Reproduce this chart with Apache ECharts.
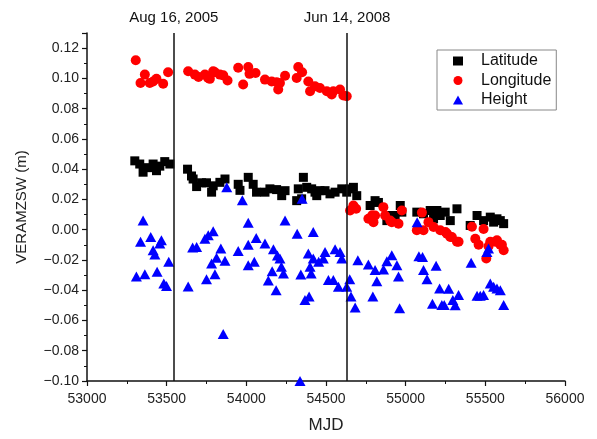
<!DOCTYPE html>
<html>
<head>
<meta charset="utf-8">
<script src="https://cdn.jsdelivr.net/npm/echarts@6/dist/echarts.min.js"></script>
<style>
html,body{margin:0;padding:0;background:#fff;}
#c{width:597px;height:439px;}
</style>
</head>
<body>
<div id="c"></div>
<script>
// ---- data ----
const latitudeMJD = [53300,53331,53352,53383,53415,53436,53457,53488,53520,53631,53656,53666,53688,53719,53750,53782,53792,53834,53866,53949,53960,54012,54043,54064,54117,54148,54190,54222,54243,54316,54326,54347,54358,54379,54410,54431,54442,54462,54494,54525,54557,54599,54630,54651,54672,54693,54777,54808,54829,54882,54903,54934,54966,54976,55070,55112,55154,55175,55196,55217,55248,55280,55322,55405,55448,55489,55531,55552,55573,55594,55615];
const latitudeVal = [0.0455,0.0434,0.038,0.041,0.0434,0.039,0.042,0.045,0.0434,0.040,0.0355,0.0335,0.0285,0.031,0.031,0.0248,0.029,0.0313,0.0335,0.030,0.026,0.0346,0.030,0.0248,0.0248,0.027,0.0265,0.0225,0.0258,0.0192,0.027,0.0204,0.0346,0.028,0.027,0.0248,0.0225,0.0258,0.0258,0.0237,0.0248,0.027,0.0248,0.027,0.028,0.0225,0.016,0.0192,0.018,0.006,0.0094,0.0094,0.016,0.0116,0.0116,0.0105,0.0127,0.0072,0.0127,0.0094,0.0116,0.006,0.0138,0.0028,0.0094,0.006,0.0083,0.005,0.0072,0.006,0.004];

const longitudeMJD = [53306,53336,53363,53394,53415,53436,53478,53509,53635,53677,53700,53740,53760,53771,53792,53803,53834,53855,53882,53949,53980,54012,54020,54058,54117,54159,54190,54200,54211,54243,54316,54326,54350,54389,54400,54431,54462,54505,54536,54546,54588,54609,54630,
  54651,54672,54689,54766,54790,54798,54808,54860,54871,54903,54913,54955,54976,55070,55102,55112,55143,55175,55217,55250,55259,55280,55290,55322,55332,55416,55437,55458,55489,55506,55520,55531,55562,55573,55594,55604,55615];
const longitudeVal = [0.112,0.097,0.1025,0.097,0.098,0.0997,0.0964,0.104,0.1047,0.1025,0.101,0.1025,0.1003,0.0997,0.1047,0.104,0.1025,0.102,0.0986,0.107,0.096,0.1075,0.103,0.1036,0.0992,0.098,0.0975,0.0926,0.097,0.1018,0.1003,0.1075,0.104,0.098,0.0915,0.0948,0.0937,0.0915,0.0894,0.0915,0.0926,0.0887,0.0882,
  0.0127,0.016,0.0138,0.0072,0.0095,0.005,0.0094,0.0149,0.0094,0.006,0.005,0.004,0.0127,-0.0004,0.0113,-0.0004,0.005,0.0018,-0.0004,-0.0015,-0.0026,-0.0048,-0.0048,-0.008,-0.008,0.002,-0.006,-0.010,0.0005,-0.019,-0.011,-0.008,-0.008,-0.007,-0.010,-0.010,-0.0136];

const heightMJD = [53310,53336,53352,53363,53400,53415,53426,53440,53457,53467,53482,53499,53513,53635,53663,53688,53740,53750,53761,53782,53792,53803,53813,53840,53855,53866,53877,53949,53975,54012,54012,54012,54050,54062,54117,54138,54162,54170,54187,54195,54211,54220,54233,54243,54319,54337,54342,54350,54368,54389,54394,54400,54407,54420,54420,54454,54483,54494,54515,54546,54557,54578,54588,54599,54630,54649,54657,54683,54700,54766,54794,54808,54819,54861,54882,54913,54945,54955,54962,55072,55083,55106,55112,55134,55168,55191,55213,55227,55242,55270,55296,55311,55332,55411,55448,55468,55489,55510,55520,55531,55552,55573,55594,55615];
const heightVal = [-0.031,-0.008,0.006,-0.0294,-0.0048,-0.0136,-0.0164,-0.0278,-0.0092,-0.007,-0.0355,-0.0372,-0.0212,-0.0376,-0.0118,-0.0114,-0.006,-0.0327,-0.0037,-0.0223,-0.0011,-0.0294,-0.0186,-0.0125,-0.069,-0.0206,0.028,-0.014,0.0195,0.0046,-0.0099,-0.0235,-0.0212,-0.0055,-0.0092,-0.0335,-0.0274,-0.013,-0.040,-0.017,-0.019,-0.0245,-0.029,0.006,-0.0026,-0.100,-0.0296,0.0205,-0.0464,-0.0158,-0.0442,-0.0245,-0.029,-0.0015,-0.019,-0.0212,-0.019,-0.0147,-0.0333,-0.0333,-0.013,-0.0377,-0.0147,-0.019,-0.0377,-0.0328,-0.0442,-0.0515,-0.0202,-0.023,-0.0442,-0.0267,-0.034,-0.0263,-0.0208,-0.0169,-0.0235,-0.031,-0.052,0.005,-0.0175,-0.018,-0.0267,-0.0327,-0.049,-0.0239,-0.0388,-0.0497,-0.0497,-0.039,-0.0464,-0.050,-0.0432,-0.0219,-0.0436,-0.0436,-0.0432,-0.0147,-0.0125,-0.0355,-0.0377,-0.0388,-0.040,-0.0497];

const seriesNames = ['Latitude','Longitude','Height'];
const eventMJD = [53545, 54632];
const eventLabels = ['Aug 16, 2005', 'Jun 14, 2008'];

function pairs(xs, ys){ return xs.map((x,i)=>[x, ys[i]]); }

const chart = echarts.init(document.getElementById('c'), null, {renderer:'canvas'});
const font = 'Liberation Sans, Arial, sans-serif';
chart.setOption({
  animation:false,
  backgroundColor:'#fff',
  grid:{left:87, right:32, top:33, bottom:56, containLabel:false},
  xAxis:{
    type:'value', min:53000, max:56000, interval:500,
    name:'MJD', nameLocation:'middle', nameGap:36,
    nameTextStyle:{fontSize:17, color:'#222', fontFamily:font},
    axisLine:{show:true, onZero:false, lineStyle:{color:'#111', width:1.5}},
    axisTick:{show:true, inside:false, length:5, lineStyle:{color:'#111', width:1.2}},
    minorTick:{show:true, splitNumber:2, length:3, lineStyle:{color:'#111', width:1}},
    axisLabel:{fontSize:14, color:'#222', margin:11, fontFamily:font, formatter:v=>String(Math.round(v))},
    splitLine:{show:false}
  },
  yAxis:{
    type:'value', min:-0.10, max:0.13, interval:0.02,
    name:'VERAMZSW (m)', nameLocation:'middle', nameGap:58, nameRotate:90,
    nameTextStyle:{fontSize:15, color:'#222', fontFamily:font},
    axisLine:{show:true, onZero:false, lineStyle:{color:'#111', width:1.5}},
    axisTick:{show:true, inside:false, length:5, lineStyle:{color:'#111', width:1.2}},
    minorTick:{show:true, splitNumber:2, length:3, lineStyle:{color:'#111', width:1}},
    axisLabel:{fontSize:14, color:'#222', margin:8, fontFamily:font, showMaxLabel:false,
      formatter:v=>(v < -1e-9 ? '\u2212' : '') + Math.abs(v).toFixed(2)},
    splitLine:{show:false}
  },
  legend:{
    orient:'vertical', left:437, top:50,
    padding:[3,5,2,16], itemGap:3.5, itemWidth:10, itemHeight:9,
    borderColor:'#888', borderWidth:1, borderRadius:0,
    textStyle:{fontSize:16, color:'#111', fontFamily:font, lineHeight:16, padding:[0,0,0,13]},
    data:[
      {name:seriesNames[0], icon:'rect', itemStyle:{opacity:1}},
      {name:seriesNames[1], icon:'circle', itemStyle:{opacity:1}},
      {name:seriesNames[2], icon:'triangle', itemStyle:{opacity:1}}
    ]
  },
  series:[
    {name:seriesNames[0], type:'scatter', symbol:'rect', symbolSize:9,
     itemStyle:{color:'#000', opacity:1}, data:pairs(latitudeMJD, latitudeVal), z:2,
     markLine:{silent:true, symbol:'none',
       lineStyle:{color:'#111', width:1.5, type:'solid', opacity:1},
       label:{show:true, position:'end', distance:8, fontSize:15, color:'#111', fontFamily:font},
       data: eventMJD.map((m,i)=>({xAxis:m, label:{formatter:eventLabels[i]}}))
     }},
    {name:seriesNames[1], type:'scatter', symbol:'circle', symbolSize:10,
     itemStyle:{color:'#ff0000', opacity:1}, data:pairs(longitudeMJD, longitudeVal), z:3},
    {name:seriesNames[2], type:'scatter', symbol:'triangle', symbolSize:[11,10],
     itemStyle:{color:'#0000ff', opacity:1}, data:pairs(heightMJD, heightVal), z:4}
  ]
});
</script>
</body>
</html>
